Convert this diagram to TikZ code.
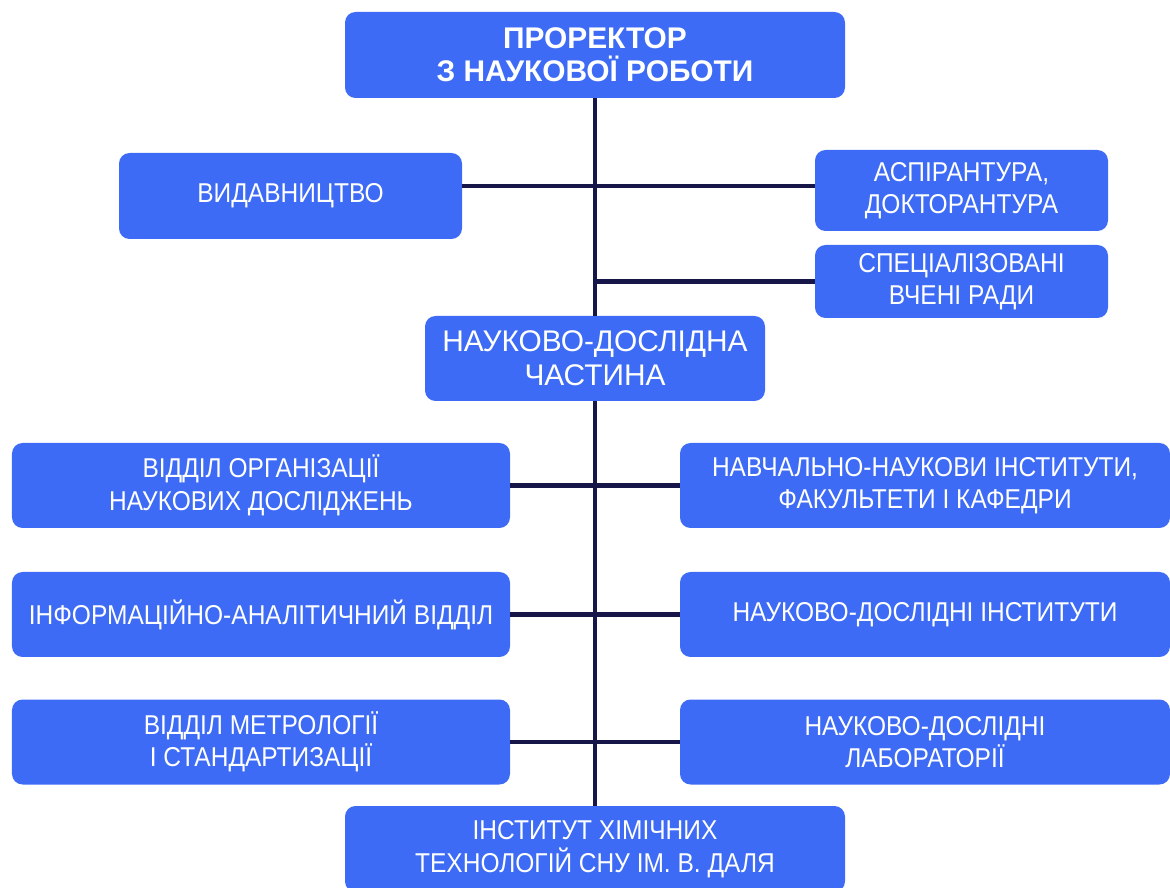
\documentclass[tikz,border=0pt]{standalone}
\usepackage{fontspec}
\setmainfont{Liberation Sans}
\newfontfamily\narrowfont[FakeStretch=0.9]{Liberation Sans}
\usetikzlibrary{positioning}
\definecolor{boxblue}{RGB}{61,107,245}
\definecolor{linenavy}{RGB}{22,22,72}

\tikzset{
  unit/.style={fill=boxblue, rounded corners=6pt, text=white, align=center,
    inner sep=0pt, font=\narrowfont\fontsize{15.5}{18.5}\selectfont},
  link/.style={draw=linenavy, line width=2.3pt}
}

\begin{document}
\begin{tikzpicture}
	\useasboundingbox (0,0) rectangle (23.4,-17.76);
	% head and upper branch
	\node[unit, font=\rmfamily\bfseries\fontsize{17}{19}\selectfont, minimum width=10cm, minimum height=1.72cm] (prorector) at (11.9,-1.1) {ПРОРЕКТОР\\З НАУКОВОЇ РОБОТИ};
	\node[unit, minimum width=6.86cm, minimum height=1.72cm] (press) at (5.81,-3.92) {ВИДАВНИЦТВО};
	\node[unit, minimum width=5.86cm, minimum height=1.62cm] (phd) at (19.23,-3.81) {АСПІРАНТУРА,\\ДОКТОРАНТУРА};
	\node[unit, minimum width=5.86cm, minimum height=1.46cm] (council) at (19.23,-5.63) {СПЕЦІАЛІЗОВАНІ\\ВЧЕНІ РАДИ};
	\node[unit, font=\rmfamily\fontsize{17}{19.5}\selectfont, minimum width=6.8cm, minimum height=1.7cm] (research) at (11.9,-7.17) {НАУКОВО-ДОСЛІДНА\\ЧАСТИНА};
	\node[unit, minimum width=10cm, minimum height=1.72cm] (chem) at (11.9,-16.98) {ІНСТИТУТ ХІМІЧНИХ\\ТЕХНОЛОГІЙ СНУ ІМ. В. ДАЛЯ};

	\draw[link] (prorector.south) -- (research.north);
	\draw[link] (research.south) -- (chem.north);
	\draw[link] ([yshift=2.5pt]phd.west) -- ([yshift=2.5pt]phd.west -| press.east);
	\draw[link] (council.west) -- (council.west -| prorector.south);

	% lower rows
	\foreach \n/\y/\ltxt/\rtxt in {
		1/-9.71/{ВІДДІЛ ОРГАНІЗАЦІЇ\\НАУКОВИХ ДОСЛІДЖЕНЬ}/{НАВЧАЛЬНО-НАУКОВИ ІНСТИТУТИ,\\ФАКУЛЬТЕТИ І КАФЕДРИ},
		2/-12.29/{ІНФОРМАЦІЙНО-АНАЛІТИЧНИЙ ВІДДІЛ}/{НАУКОВО-ДОСЛІДНІ ІНСТИТУТИ},
		3/-14.84/{ВІДДІЛ МЕТРОЛОГІЇ\\І СТАНДАРТИЗАЦІЇ}/{НАУКОВО-ДОСЛІДНІ\\ЛАБОРАТОРІЇ}}
	{
		\node[unit, minimum width=9.96cm, minimum height=1.7cm] (left\n) at (5.22,\y) {\ltxt};
		\node[unit, minimum width=9.8cm, minimum height=1.7cm] (right\n) at (18.5,\y) {\rtxt};
		\draw[link] (left\n.east) -- (right\n.west);
	}
\end{tikzpicture}
\end{document}
